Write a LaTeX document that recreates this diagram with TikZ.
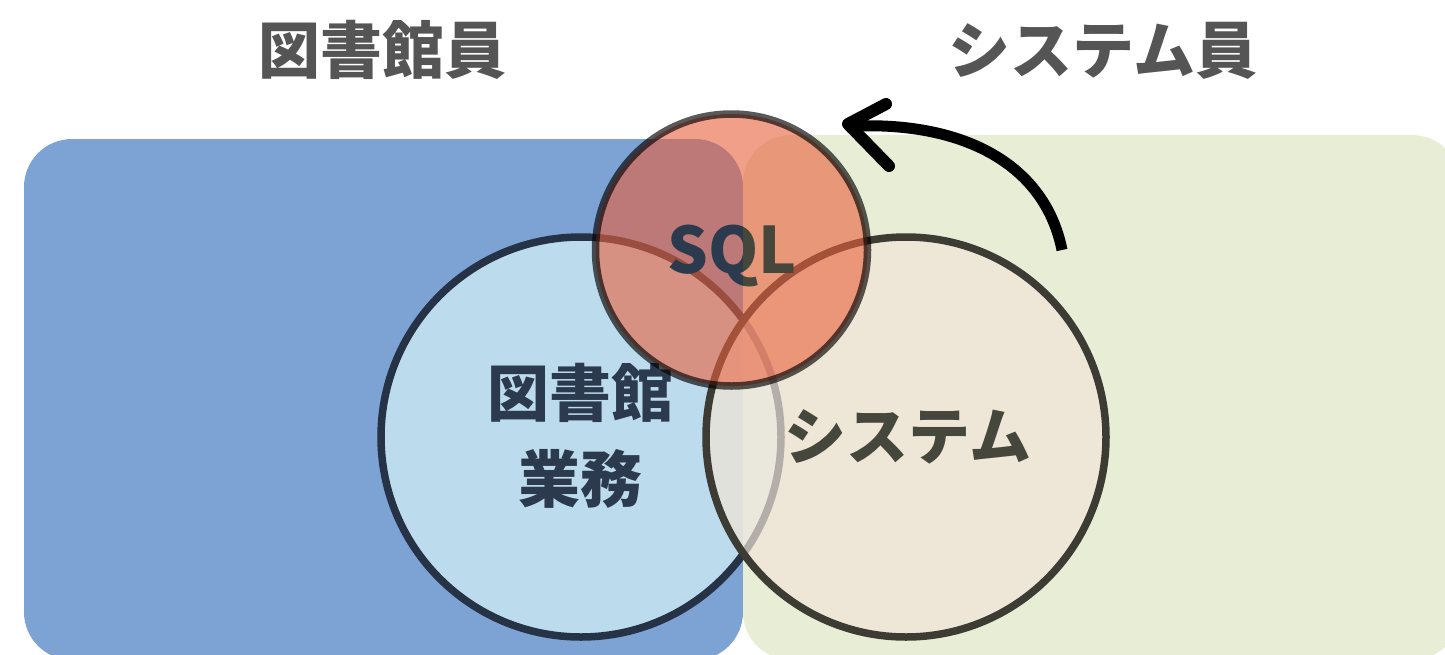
\documentclass[tikz,border=0pt]{standalone}
\usepackage{fontspec}
\setmainfont{Noto Sans CJK JP}
\definecolor{bluebg}{RGB}{125,162,212}
\definecolor{greenbg}{RGB}{232,238,214}
\definecolor{libfill}{RGB}{216,245,249}
\definecolor{libline}{RGB}{38,50,69}
\definecolor{sysfill}{RGB}{241,228,214}
\definecolor{sysline}{RGB}{60,60,53}
\definecolor{sqlfill}{RGB}{233,95,60}
\definecolor{navytext}{RGB}{43,58,76}
\definecolor{olivetext}{RGB}{69,70,60}
\definecolor{titlegray}{RGB}{85,85,85}
\begin{document}
\begin{tikzpicture}[x=1pt,y=-1pt,
  ring/.style={circle, inner sep=0pt, outer sep=0pt, line width=7.5pt},
  libc/.style={ring, minimum size=400pt, fill=libfill, fill opacity=0.7, draw=libline},
  sysc/.style={ring, minimum size=400pt, fill=sysfill, fill opacity=0.7, draw=sysline},
  sqlc/.style={ring, minimum size=272pt, fill=sqlfill, fill opacity=0.6, draw=black, draw opacity=0.65},
  title/.style={font=\bfseries\fontsize{62}{70}\selectfont, text=titlegray, anchor=base, inner sep=0pt},
  inner/.style={font=\bfseries\fontsize{62}{87}\selectfont, anchor=base, inner sep=0pt},
  sqltext/.style={font=\bfseries\fontsize{64}{70}\selectfont, anchor=base, inner sep=0pt},
  brush/.style={draw=black, line width=11pt, line cap=round, line join=round}]
\useasboundingbox (0,0) rectangle (1445,654);
\begin{scope}
  \clip (0,0) rectangle (1445,654);
  \fill[bluebg, rounded corners=48pt] (24,139) rectangle (743,660);
  \fill[greenbg, rounded corners=48pt] (743,135) rectangle (1460,660);
\end{scope}
% titles
\node[title] (tlib) at (382,73) {図書館員};
\node[title] (tsys) at (1103,73) {システム員};
% circles
\node[libc] (lib) at (581,437) {};
\node[sysc] (sys) at (906,437) {};
\node[inner, text=navytext] (libt1) at (580,416) {図書館};
\node[inner, text=navytext] (libt2) at (580,502) {業務};
\node[sqlc] (sql) at (731.5,250) {};
\begin{scope}
  \clip (0,0) rectangle (743,654);
  \node[sqltext, text=navytext] (sqlL) at (732,273) {SQL};
\end{scope}
\begin{scope}
  \clip (743,0) rectangle (1445,654);
  \node[sqltext, text=olivetext] (sqlR) at (732,273) {SQL};
\end{scope}
\node[inner, text=olivetext] (syst) at (908,459) {システム};
% arrow
\coordinate (arrStart) at (1062,250);
\coordinate (arrTip) at (848,124);
\coordinate (barbUp) at (886,104);
\coordinate (barbDown) at (889,166);
\draw[brush, line cap=butt] (arrStart) .. controls (1045,165) and (965,122) .. (855,126);
\draw[brush, line width=12pt] (barbUp) -- (arrTip) -- (barbDown);
\end{tikzpicture}
\end{document}
